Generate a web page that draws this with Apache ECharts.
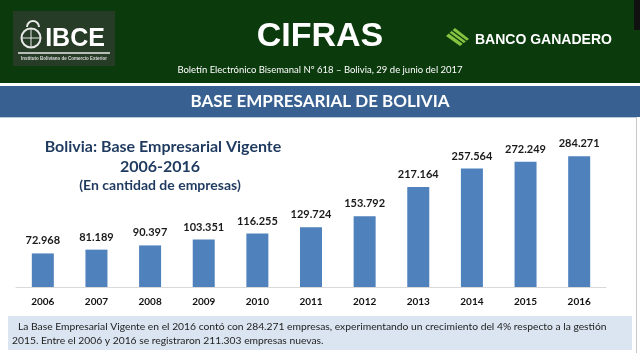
<!DOCTYPE html>
<html>
<head>
<meta charset="utf-8">
<script src="https://cdn.jsdelivr.net/npm/echarts@6/dist/echarts.min.js"></script>
<style>
  html, body { margin: 0; padding: 0; background: #fff; }
  #chart { width: 640px; height: 353px; }
</style>
</head>
<body>
<div id="chart"></div>
<script>
const years = ['2006', '2007', '2008', '2009', '2010', '2011', '2012', '2013', '2014', '2015', '2016']
const empresas = [72968, 81189, 90397, 103351, 116255, 129724, 153792, 217164, 257564, 272249, 284271]

const fmt = v => String(v).replace(/\B(?=(\d{3})+(?!\d))/g, '.')

const chart = echarts.init(document.getElementById('chart'))
chart.setOption({
  animation: false,
  grid: { left: 16, right: 34, top: 149, bottom: 66 },
  xAxis: {
    type: 'category',
    data: years,
    axisTick: { show: false },
    axisLine: { lineStyle: { color: '#d9d9d9', width: 1 } },
    axisLabel: { color: '#111', fontFamily: 'Lato', fontWeight: 'bold', fontSize: 10, margin: 10 }
  },
  yAxis: { type: 'value', min: 0, max: 300000, show: false, splitLine: { show: false } },
  series: [{
    type: 'bar',
    data: empresas,
    barWidth: 22,
    itemStyle: { color: '#4f81bd' },
    label: {
      show: true,
      position: 'top',
      distance: 7,
      color: '#1a1a1a',
      fontFamily: 'Lato',
      fontWeight: 'bold',
      fontSize: 11,
      formatter: p => fmt(p.value)
    }
  }],
  graphic: [
    // cabecera verde
    { type: 'rect', shape: { x: 0, y: 0, width: 640, height: 83 }, style: { fill: '#0b3a0d' }, z: -1 },
    { type: 'rect', shape: { x: 634, y: 0, width: 6, height: 30 }, style: { fill: '#111' } },
    // logo IBCE
    { type: 'rect', shape: { x: 13, y: 11, width: 102, height: 55 }, style: { fill: '#263c27' } },
    { type: 'circle', shape: { cx: 31, cy: 38, r: 9.5 }, style: { fill: 'none', stroke: '#e8e8e8', lineWidth: 2 } },
    { type: 'line', shape: { x1: 22, y1: 38, x2: 40, y2: 38 }, style: { stroke: '#e8e8e8', lineWidth: 1 } },
    { type: 'line', shape: { x1: 31, y1: 29, x2: 31, y2: 47 }, style: { stroke: '#e8e8e8', lineWidth: 1 } },
    { type: 'arc', shape: { cx: 33, cy: 27, r: 6, startAngle: Math.PI, endAngle: Math.PI * 2 }, style: { fill: 'none', stroke: '#e8e8e8', lineWidth: 2 } },
    { type: 'text', style: { x: 75, y: 39, text: 'IBCE', fill: '#fff', font: 'bold 25px "Liberation Sans Narrow", "Liberation Sans"', align: 'center', verticalAlign: 'middle' } },
    { type: 'line', shape: { x1: 18, y1: 53, x2: 110, y2: 53 }, style: { stroke: '#e8e8e8', lineWidth: 1.5 } },
    { type: 'text', style: { x: 64, y: 58.5, text: 'Instituto Boliviano de Comercio Exterior', fill: '#ddd', font: 'bold 4.5px "Liberation Sans"', align: 'center', verticalAlign: 'middle' } },
    // titulo cabecera
    { type: 'text', style: { x: 320, y: 37, text: 'CIFRAS', fill: '#fff', font: 'bold 34px "Liberation Sans"', align: 'center', verticalAlign: 'middle' } },
    { type: 'text', style: { x: 320, y: 70, text: 'Boletín Electrónico Bisemanal Nº 618 – Bolivia, 29 de junio del 2017', fill: '#fff', font: '9.5px Lato', align: 'center', verticalAlign: 'middle' } },
    // banco ganadero
    { type: 'polygon', shape: { points: [[446, 36], [455, 28], [469, 39], [460, 46]] }, style: { fill: '#86c440' } },
    { type: 'line', shape: { x1: 449, y1: 33, x2: 464, y2: 44 }, style: { stroke: '#0b3a0d', lineWidth: 1.3 } },
    { type: 'line', shape: { x1: 452, y1: 30.5, x2: 467, y2: 41.5 }, style: { stroke: '#0b3a0d', lineWidth: 1.3 } },
    { type: 'text', style: { x: 475, y: 40, text: 'BANCO GANADERO', fill: '#fff', font: 'bold 14px "Liberation Sans"', align: 'left', verticalAlign: 'middle' } },
    // banda azul
    { type: 'rect', shape: { x: 0, y: 86, width: 640, height: 31 }, style: { fill: '#386192' } },
    { type: 'line', shape: { x1: 0, y1: 117.5, x2: 636, y2: 117.5 }, style: { stroke: '#b8c7d9', lineWidth: 1 } },
    { type: 'line', shape: { x1: 636.5, y1: 117, x2: 636.5, y2: 353 }, style: { stroke: '#c8c8c8', lineWidth: 1 } },
    { type: 'text', style: { x: 320, y: 102, text: 'BASE EMPRESARIAL DE BOLIVIA', fill: '#fff', font: 'bold 17px Lato', align: 'center', verticalAlign: 'middle' } },
    // titulo del grafico
    { type: 'text', style: { x: 163, y: 147, text: 'Bolivia: Base Empresarial Vigente', fill: '#1f3a5f', font: 'bold 16px Lato', align: 'center', verticalAlign: 'middle' } },
    { type: 'text', style: { x: 160, y: 167, text: '2006-2016', fill: '#1f3a5f', font: 'bold 16px Lato', align: 'center', verticalAlign: 'middle' } },
    { type: 'text', style: { x: 160, y: 185, text: '(En cantidad de empresas)', fill: '#1f3a5f', font: 'bold 14px Lato', align: 'center', verticalAlign: 'middle' } },
    // caja de texto
    { type: 'rect', shape: { x: 8, y: 316, width: 624, height: 34 }, style: { fill: '#dbe5f1' } },
    { type: 'text', style: { x: 18, y: 327, text: 'La Base Empresarial Vigente en el 2016 contó con 284.271 empresas, experimentando un crecimiento del 4% respecto a la gestión', fill: '#222', font: '10.3px Lato', align: 'left', verticalAlign: 'middle' } },
    { type: 'text', style: { x: 12, y: 341, text: '2015. Entre el 2006 y 2016 se registraron 211.303 empresas nuevas.', fill: '#222', font: '10.3px Lato', align: 'left', verticalAlign: 'middle' } }
  ]
})
</script>
</body>
</html>
